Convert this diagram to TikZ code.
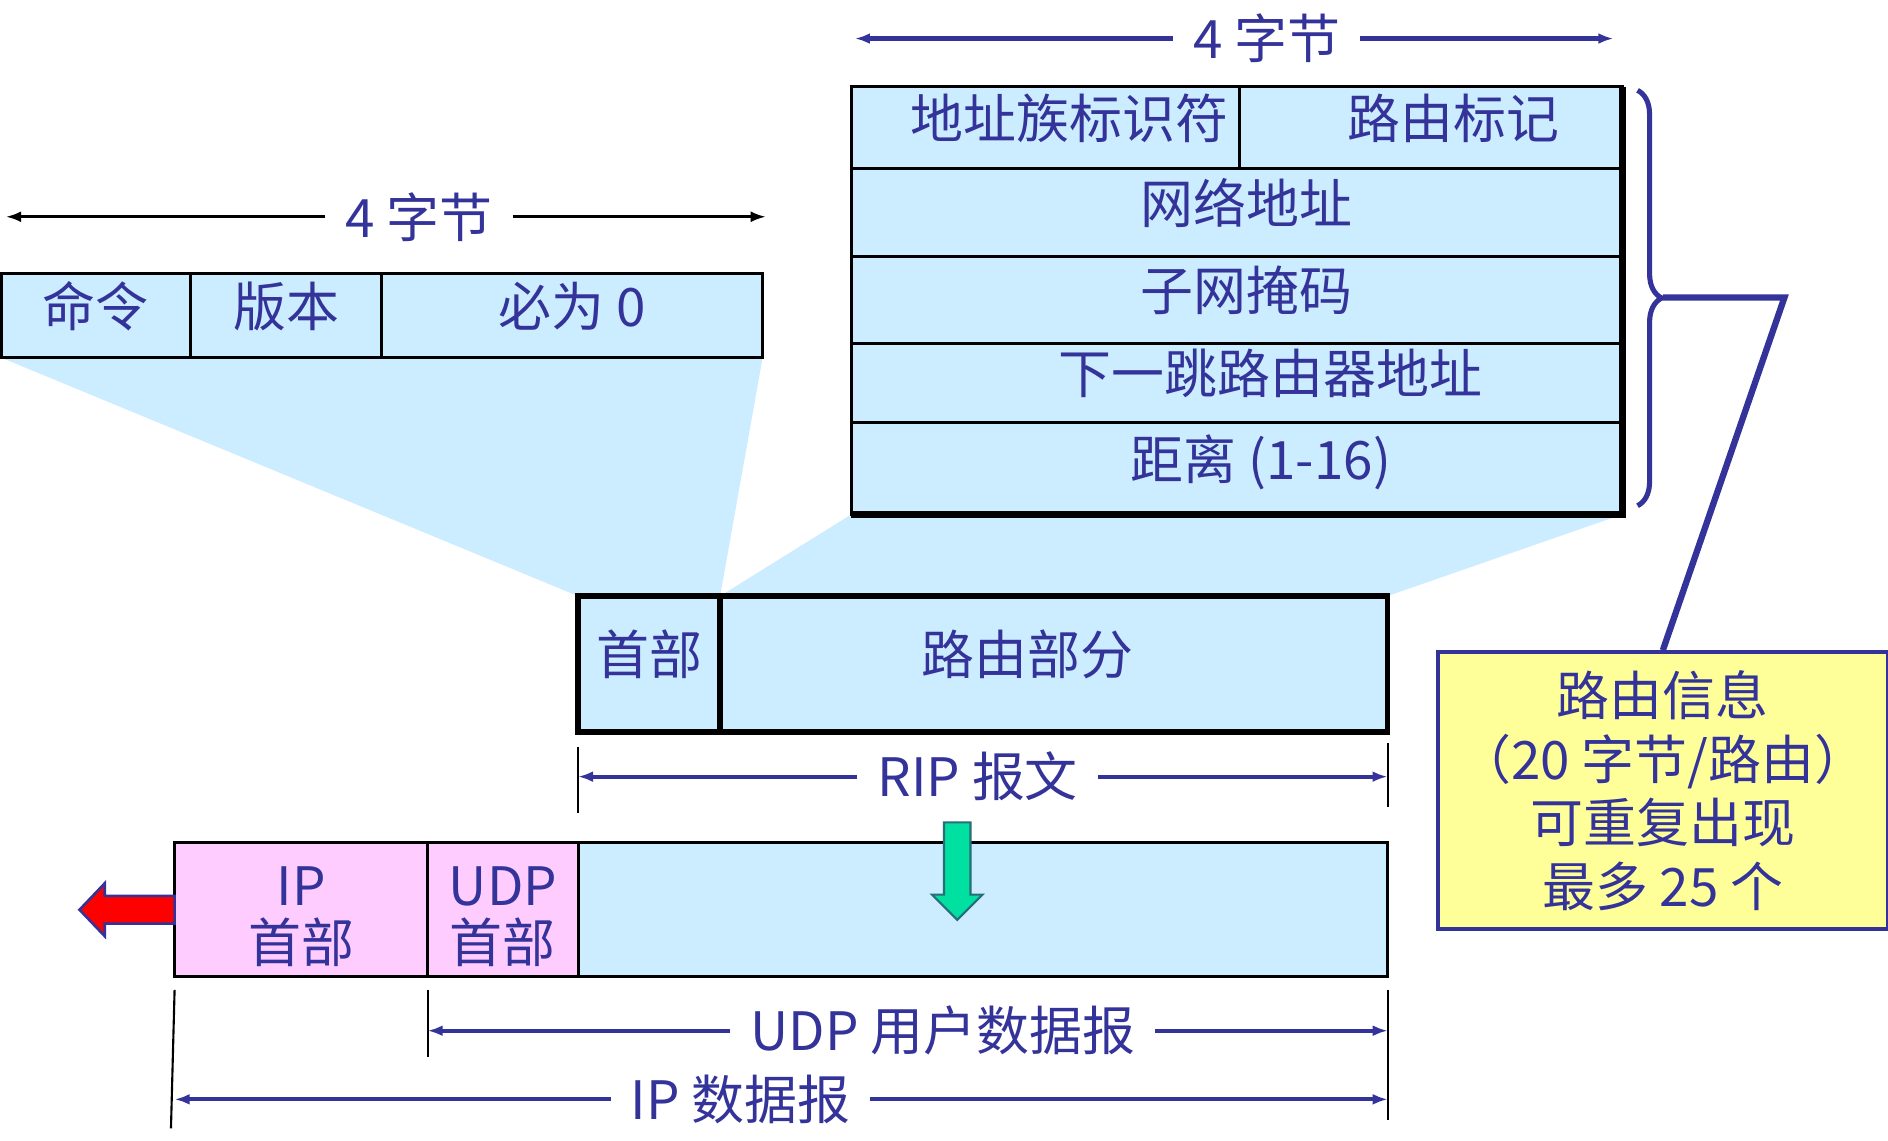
\documentclass[tikz,border=0pt]{standalone}
\usepackage{fontspec}
\setmainfont{Noto Sans CJK SC}
\usepackage{tikz}
\usetikzlibrary{positioning,arrows.meta,decorations.pathreplacing,backgrounds}
\definecolor{txtCol}{RGB}{51,51,153}
\definecolor{cellCol}{RGB}{204,236,255}
\definecolor{pinkCol}{RGB}{255,204,255}
\definecolor{noteCol}{RGB}{255,255,153}
\definecolor{dropCol}{RGB}{0,224,160}
\definecolor{dropEdge}{RGB}{40,110,120}
\tikzset{myCell/.style={draw=black, line width=0.7pt, fill=cellCol, text=txtCol, inner sep=0pt, outer sep=0pt, anchor=north west, font=\fontsize{12.5}{13.5}\selectfont}}
\tikzset{myField/.style={myCell, text height=11pt, text depth=6pt}}
\tikzset{myLen/.style={text=txtCol, inner xsep=0.16cm, inner ysep=0pt, font=\fontsize{12.5}{15}\selectfont}}
\tikzset{myLenLine/.style={line width=1pt, color=txtCol, -{Latex[length=1.25mm,width=0.9mm]}}}
\tikzset{myTick/.style={line width=0.5pt, color=black}}

\begin{document}
\begin{tikzpicture}[x=0.01cm, y=-0.01cm]
	\useasboundingbox (0,0) rectangle (1568,947);
	% header of the RIP message
	\node[myField, minimum width=1.57cm, minimum height=0.70cm] (cmd) at (1,227) {命令};
	\node[myField, minimum width=1.59cm, minimum height=0.70cm] (ver) at (cmd.north east) {版本};
	\node[myField, minimum width=3.16cm, minimum height=0.70cm] (zero) at (ver.north east) {必为 0};
	\node[myLen] (lenA) at (348,180) {4 字节};
	\coordinate (lenAL) at (5,180);
	\coordinate (lenAR) at (636,180);
	\draw[myLenLine, black, line width=0.6pt] (lenA) -- (lenAL);
	\draw[myLenLine, black, line width=0.6pt] (lenA) -- (lenAR);

	% one route entry
	\node[myField, minimum width=3.22cm, minimum height=0.68cm] (family) at (707,72) {\hspace*{0.4cm}地址族标识符};
	\node[myField, minimum width=3.18cm, minimum height=0.68cm] (tag) at (family.north east) {\hspace*{0.38cm}路由标记};
	\node[myField, minimum width=6.40cm, minimum height=0.73cm] (netAddr) at (family.south west) {\hspace*{0.16cm}网络地址};
	\node[myField, minimum width=6.40cm, minimum height=0.72cm] (mask) at (netAddr.south west) {\hspace*{0.16cm}子网掩码};
	\node[myField, minimum width=6.40cm, minimum height=0.66cm] (hop) at (mask.south west) {\hspace*{0.56cm}下一跳路由器地址};
	\node[myField, minimum width=6.40cm, minimum height=0.76cm] (dist) at (hop.south west) {\hspace*{0.4cm}距离 (1-16)};
	\draw[line width=1.6pt] (tag.north east) -- (dist.south east) -- (dist.south west);
	\node[myLen] (lenB) at (1052,32) {4 字节};
	\coordinate (lenBL) at (710,32);
	\coordinate (lenBR) at (1340,32);
	\draw[myLenLine] (lenB) -- (lenBL);
	\draw[myLenLine] (lenB) -- (lenBR);

	% brace and note
	\coordinate (braceTop) at (1360,75);
	\coordinate (braceBot) at (1360,420);
	\coordinate (braceTip) at (1381,247);
	\coordinate (braceElbow) at (1482,247);
	\draw[decorate, decoration={brace, amplitude=0.2cm}, line width=1.2pt, txtCol] (braceTop) -- (braceBot);
	\node[draw=txtCol, line width=0.8pt, fill=noteCol, text=txtCol, minimum width=3.73cm, minimum height=2.30cm, align=center, anchor=north west, font=\fontsize{12.5}{15}\selectfont] (info) at (1193,540) {路由信息\\（20 字节/路由）\\可重复出现\\最多 25 个};
	\draw[line width=1.5pt, txtCol] (braceTip) -- (braceElbow) -- (info.north);

	% RIP message
	\node[myField, line width=1.3pt, minimum width=1.18cm, minimum height=1.13cm] (ripHead) at (480,495) {首部};
	\node[myField, line width=1.3pt, minimum width=5.54cm, minimum height=1.13cm] (ripBody) at (ripHead.north east) {路由部分\hspace*{0.44cm}};
	\node[myLen] (lenRip) at (812,645) {RIP 报文};
	\draw[myLenLine] (lenRip) -- (ripHead.south west |- lenRip);
	\draw[myLenLine] (lenRip) -- (ripBody.south east |- lenRip);
	\draw[myTick] ([yshift=-0.12cm]ripHead.south west) -- ++(0,55);
	\draw[myTick] ([yshift=-0.09cm]ripBody.south east) -- ++(0,53);

	\begin{scope}[on background layer]
		\fill[cellCol] (cmd.south west) -- (zero.south east) -- (ripHead.north east) -- (ripHead.north west) -- cycle;
		\fill[cellCol] (dist.south west) -- (dist.south east) -- (ripBody.north east) -- (ripHead.north east) -- cycle;
	\end{scope}

	% IP datagram
	\node[myCell, fill=pinkCol, minimum width=2.10cm, minimum height=1.11cm, align=center] (ipHead) at (145,700) {\rule{0pt}{12.6pt}IP\\首部};
	\node[myCell, fill=pinkCol, minimum width=1.25cm, minimum height=1.11cm, align=center] (udpHead) at (ipHead.north east) {\rule{0pt}{12.6pt}UDP\\首部};
	\node[myCell, minimum width=6.72cm, minimum height=1.11cm] (udpData) at (udpHead.north east) {};
	\coordinate (dropTop) at (795,683);
	\filldraw[fill=dropCol, draw=dropEdge, line width=0.5pt] (dropTop) ++(-11,0) -- ++(22,0) -- ++(0,60) -- ++(10,0) -- ++(-21,21) -- ++(-21,-21) -- ++(10,0) -- cycle;
	\filldraw[fill=red, draw=txtCol, line width=0.6pt] (ipHead.west) ++(0,-11.5) -- ++(-58,0) -- ++(0,-10.5) -- ++(-21,22) -- ++(21,22) -- ++(0,-10.5) -- ++(58,0) -- cycle;

	\node[myLen] (lenUdp) at (783,856) {UDP 用户数据报};
	\draw[myLenLine] (lenUdp) -- (udpHead.south west |- lenUdp);
	\draw[myLenLine] (lenUdp) -- (udpData.south east |- lenUdp);
	\node[myLen] (lenIp) at (615,913) {IP 数据报};
	\draw[myLenLine] (lenIp) -- (ipHead.south west |- lenIp);
	\draw[myLenLine] (lenIp) -- (udpData.south east |- lenIp);
	\draw[myTick] ([yshift=-0.11cm]udpHead.south west) -- ++(0,56);
	\draw[myTick] ([yshift=-0.11cm]ipHead.south west) -- ++(-3,115);
	\draw[myTick] ([yshift=-0.11cm]udpData.south east) -- ++(0,108);
\end{tikzpicture}
\end{document}
